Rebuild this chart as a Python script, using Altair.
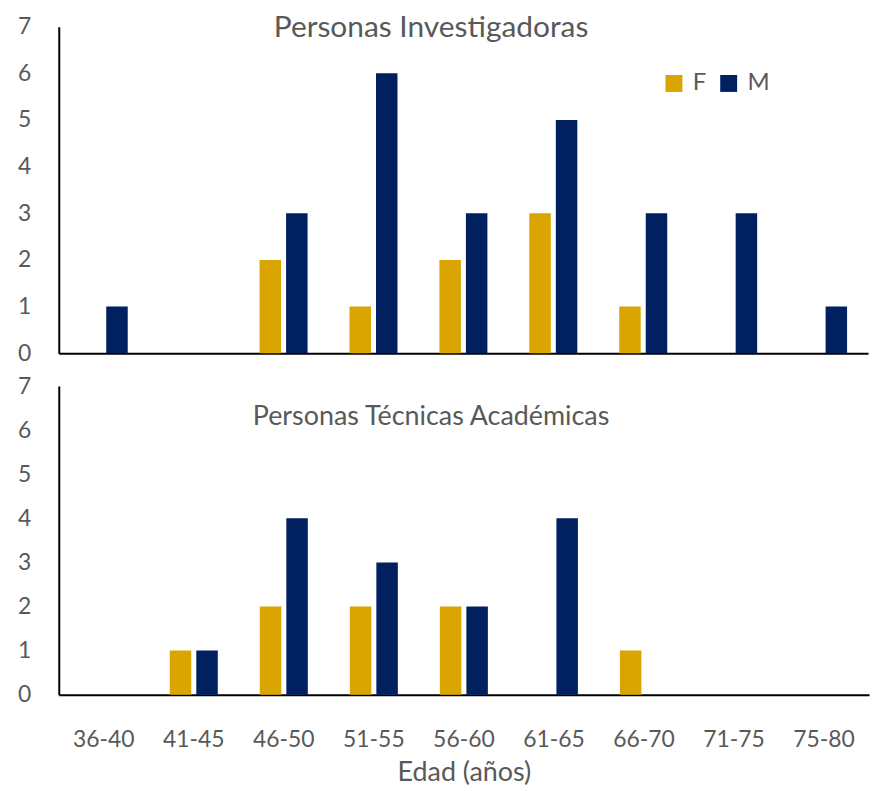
import altair as alt
import pandas as pd

categories = ["36-40", "41-45", "46-50", "51-55", "56-60", "61-65", "66-70", "71-75", "75-80"]
inv_F = [0, 0, 2, 1, 2, 3, 1, 0, 0]
inv_M = [1, 0, 3, 6, 3, 5, 3, 3, 1]
tec_F = [0, 1, 2, 2, 2, 0, 1, 0, 0]
tec_M = [0, 1, 4, 3, 2, 4, 0, 0, 0]
y_ticks = [0, 1, 2, 3, 4, 5, 6, 7]

FONT = "Lato"
GOLD = "#DAA500"
NAVY = "#002060"
GRAY = "#595959"


def long(fv, mv):
    rows = []
    for c, f, m in zip(categories, fv, mv):
        rows.append({"Edad": c, "Sexo": "F", "n": f})
        rows.append({"Edad": c, "Sexo": "M", "n": m})
    return pd.DataFrame(rows)


color_scale = alt.Scale(domain=["F", "M"], range=[GOLD, NAVY])
x_scale = alt.Scale(domain=categories, paddingInner=0.466, paddingOuter=0.233)
off_scale = alt.Scale(domain=["F", "M"], paddingInner=0.19, paddingOuter=0)
y_scale = alt.Scale(domain=[0, 7], nice=False)


def panel(df, title, title_x, title_y, title_size, width, height, show_x_labels, legend):
    y_axis = alt.Axis(values=y_ticks, ticks=False, grid=False, domainColor="black",
                      domainWidth=2, labelFont=FONT, labelFontSize=23, labelColor=GRAY,
                      labelPadding=28, title=None)
    if show_x_labels:
        x_axis = alt.Axis(ticks=False, domainColor="black", domainWidth=2, labelFont=FONT,
                          labelFontSize=23, labelColor=GRAY, labelPadding=34, labelAngle=0,
                          title="Edad (años)", titleFont=FONT, titleFontSize=27,
                          titleColor=GRAY, titleFontWeight="normal", titlePadding=8)
    else:
        x_axis = alt.Axis(ticks=False, labels=False, domainColor="black", domainWidth=2,
                          title=None)
    if legend:
        leg = alt.Legend(orient="none", legendX=606, legendY=45, direction="horizontal",
                         title=None, symbolType="square", symbolSize=289,
                         symbolStrokeWidth=0, labelFont=FONT, labelFontSize=24,
                         labelColor=GRAY, columnPadding=10, padding=0, labelOffset=7)
    else:
        leg = None
    color = alt.Color("Sexo:N", scale=color_scale, legend=leg)
    bars = alt.Chart(df).mark_bar().encode(
        x=alt.X("Edad:N", scale=x_scale, axis=x_axis, sort=categories),
        xOffset=alt.XOffset("Sexo:N", scale=off_scale),
        y=alt.Y("n:Q", scale=y_scale, axis=y_axis),
        color=color,
    )
    ttl = alt.Chart(pd.DataFrame({"t": [title]})).mark_text(
        font=FONT, fontSize=title_size, color=GRAY, align="center", baseline="middle"
    ).encode(text="t:N", x=alt.value(title_x), y=alt.value(title_y))
    return alt.layer(bars, ttl).properties(width=width, height=height)


top = panel(long(inv_F, inv_M), "Personas Investigadoras", 374, 1, 30, 813, 328, False, True)
bottom = panel(long(tec_F, tec_M), "Personas Técnicas Académicas", 374, 31, 27, 814, 310, True, False)

chart = alt.vconcat(top, bottom, spacing=10).configure_view(stroke=None).resolve_scale(
    color="shared"
).properties(padding={"left": 9, "top": 3, "right": 5, "bottom": 5})

chart.save("out.html", embed_options={"renderer": "svg", "actions": False})
